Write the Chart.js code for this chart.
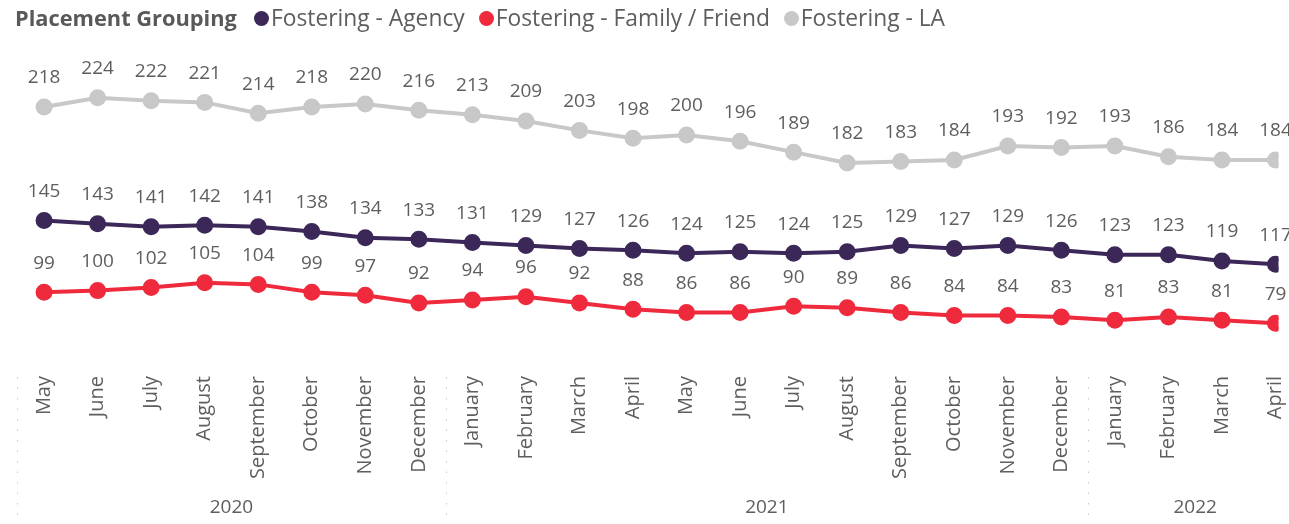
<!DOCTYPE html>
<html>
<head>
<meta charset="utf-8">
<script src="https://cdn.jsdelivr.net/npm/chart.js@4"></script>
<style>
  body { margin: 0; background: #fff; overflow: hidden; }
  #wrap { position: relative; width: 1289px; height: 524px; }
  #legend { position: absolute; left: 15px; top: 2px; font-family: "Open Sans", sans-serif; font-size: 22.8px; color: #605E5C; white-space: nowrap; }
  #legend b { color: #595959; font-size: 21.8px; }
  #legend .dot { display: inline-block; width: 15px; height: 15px; border-radius: 50%; margin: 0 2px 0 14px; vertical-align: 0px; }
  #legend .dot.first { margin-left: 17px; }
</style>
</head>
<body>
<div id="wrap">
  <canvas id="chart"></canvas>
  <div id="legend"></div>
</div>
<script>
const months = ['May', 'June', 'July', 'August', 'September', 'October', 'November', 'December',
  'January', 'February', 'March', 'April', 'May', 'June', 'July', 'August', 'September', 'October', 'November', 'December',
  'January', 'February', 'March', 'April'];
const monthYear = ['2020', '2020', '2020', '2020', '2020', '2020', '2020', '2020',
  '2021', '2021', '2021', '2021', '2021', '2021', '2021', '2021', '2021', '2021', '2021', '2021',
  '2022', '2022', '2022', '2022'];
const seriesNames = ['Fostering - Agency', 'Fostering - Family / Friend', 'Fostering - LA'];
const agency = [145, 143, 141, 142, 141, 138, 134, 133, 131, 129, 127, 126, 124, 125, 124, 125, 129, 127, 129, 126, 123, 123, 119, 117];
const family = [99, 100, 102, 105, 104, 99, 97, 92, 94, 96, 92, 88, 86, 86, 90, 89, 86, 84, 84, 83, 81, 83, 81, 79];
const la = [218, 224, 222, 221, 214, 218, 220, 216, 213, 209, 203, 198, 200, 196, 189, 182, 183, 184, 193, 192, 193, 186, 184, 184];
const colors = ['#3B2858', '#EE2A3C', '#C8C8C8'];

const FONT = '"Open Sans", sans-serif';
const TEXT = '#605E5C';

// legend
const legend = document.getElementById('legend');
legend.innerHTML = '<b>Placement Grouping</b>' + seriesNames.map((n, i) =>
  '<span class="dot' + (i === 0 ? ' first' : '') + '" style="background:' + colors[i] + '"></span>' + n).join('');

const series = [agency, family, la];
const datasets = series.map((vals, i) => ({
  label: seriesNames[i],
  data: vals.map((v, k) => ({ x: k, y: v })),
  borderColor: colors[i],
  backgroundColor: colors[i],
  borderWidth: 4,
  pointRadius: 6.5,
  pointHoverRadius: 6.5,
  tension: 0
}));

const valueLabels = {
  id: 'valueLabels',
  afterDatasetsDraw(chart) {
    const ctx = chart.ctx;
    ctx.save();
    ctx.font = '19px ' + FONT;
    ctx.fillStyle = TEXT;
    ctx.textAlign = 'center';
    ctx.textBaseline = 'middle';
    chart.data.datasets.forEach((ds, i) => {
      chart.getDatasetMeta(i).data.forEach((pt, k) => {
        ctx.fillText(String(series[i][k]), pt.x, pt.y - 29);
      });
    });
    ctx.restore();
  }
};

const yearAxis = {
  id: 'yearAxis',
  afterDraw(chart) {
    const ctx = chart.ctx;
    const xs = chart.scales.x;
    ctx.save();
    // group months by year
    const groups = [];
    monthYear.forEach((y, k) => {
      const g = groups[groups.length - 1];
      if (g && g.year === y) g.end = k; else groups.push({ year: y, start: k, end: k });
    });
    ctx.strokeStyle = '#C8C8C8';
    ctx.lineWidth = 1;
    ctx.setLineDash([1.5, 9]);
    groups.forEach(g => {
      const x = Math.round(xs.getPixelForValue(g.start - 0.5)) + 0.5;
      ctx.beginPath();
      ctx.moveTo(x, 377);
      ctx.lineTo(x, 524);
      ctx.stroke();
    });
    ctx.setLineDash([]);
    ctx.font = '19px ' + FONT;
    ctx.fillStyle = TEXT;
    ctx.textAlign = 'center';
    ctx.textBaseline = 'middle';
    groups.forEach(g => {
      const x = xs.getPixelForValue((g.start + g.end) / 2);
      ctx.fillText(g.year, x, 508);
    });
    ctx.restore();
  }
};

new Chart(document.getElementById('chart'), {
  type: 'line',
  data: { datasets },
  options: {
    responsive: true,
    maintainAspectRatio: false,
    animation: false,
    layout: { padding: { top: 40, left: 17.3, right: 0, bottom: 0 } },
    plugins: { legend: { display: false }, tooltip: { enabled: false } },
    scales: {
      x: {
        type: 'linear',
        min: -0.5,
        max: 23.056,
        grid: { display: false },
        border: { display: false },
        afterBuildTicks(scale) { scale.ticks = months.map((m, k) => ({ value: k })); },
        afterFit(scale) { scale.height = 150; scale.paddingLeft = 0; scale.paddingRight = 0; },
        ticks: {
          autoSkip: false,
          minRotation: 90,
          maxRotation: 90,
          padding: -6,
          color: TEXT,
          font: { family: FONT, size: 20 },
          callback: (v) => months[v]
        }
      },
      y: {
        display: false,
        min: 46.4,
        max: 261.1
      }
    }
  },
  plugins: [valueLabels, yearAxis]
});
</script>
</body>
</html>
